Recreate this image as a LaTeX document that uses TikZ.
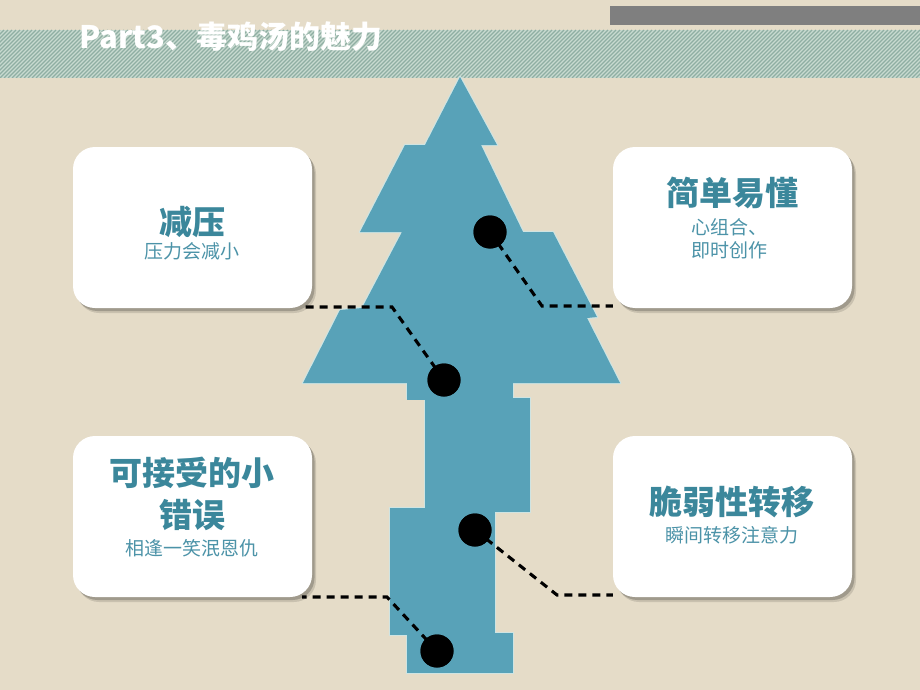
\documentclass[tikz,border=0pt]{standalone}
\usepackage{fontspec}
\setmainfont{Noto Sans CJK SC}
\usetikzlibrary{shadows}
\definecolor{bg}{HTML}{E5DCC8}
\definecolor{bandbase}{HTML}{C8DAD0}
\definecolor{stripe}{HTML}{8FAEA3}
\definecolor{barc}{HTML}{7F7F7F}
\definecolor{treec}{HTML}{58A2B8}
\definecolor{halo}{HTML}{CFE4E2}
\definecolor{titlec}{HTML}{3B879B}
\definecolor{subc}{HTML}{4C93A8}
\tikzset{
  box/.style={fill=white, rounded corners=22pt, minimum width=239pt, minimum height=161pt, inner sep=0pt,
    general shadow={fill=black, opacity=.12, shadow xshift=4pt, shadow yshift=-5pt},
    general shadow={fill=black, opacity=.2, shadow xshift=2.5pt, shadow yshift=-3pt}},
  dot/.style={circle, fill=black, minimum size=33pt, inner sep=0pt},
  conn/.style={draw=black, line width=3.1pt, dash pattern=on 8pt off 6pt},
  ttl/.style={text=titlec, font=\bfseries\fontsize{33}{36}\selectfont, inner sep=0pt},
  subt/.style={text=subc, font=\fontsize{19}{22}\selectfont, inner sep=0pt},
  treepart/.style={fill=treec},
}
\begin{document}
\begin{tikzpicture}[x=1pt,y=-1pt]
\useasboundingbox (0,0) rectangle (920,690);
\fill[bg] (0,0) rectangle (920,690);
% hatched band
\begin{scope}
\clip (0,30) rectangle (920,78);
\fill[bandbase] (0,30) rectangle (920,78);
\foreach \i in {-60,-56,...,924} \draw[stripe, line width=1.1pt] (\i,78) -- (\i+48,30);
\end{scope}
% gray bar
\fill[barc] (610,6) rectangle (920,25);
\node[anchor=west, text=white, font=\bfseries\fontsize{31}{33}\selectfont, inner sep=0pt] (title) at (79,37) {Part3、毒鸡汤的魅力};
% tree: halo then fill
\def\treepath{(460,77) -- (497,145) -- (481,145) -- (523,232) -- (553,232) -- (597,317) -- (587,318) -- (620,383) -- (303,383) -- (340,310) -- (362,308) -- (402,232) -- (360,232) -- (405,145) -- (425,145) -- cycle}
\draw[halo, line width=2.4pt, line join=round] \treepath;
\draw[halo, line width=2.4pt] (407,383) rectangle (513,398);
\draw[halo, line width=2.4pt] (425,398) rectangle (530,512);
\draw[halo, line width=2.4pt] (390,508) rectangle (495,635);
\draw[halo, line width=2.4pt] (407,633) rectangle (513,673);
\fill[treepart] \treepath;
\fill[treepart] (407,380) rectangle (513,400);
\fill[treepart] (425,398) rectangle (530,512);
\fill[treepart] (390,508) rectangle (495,635);
\fill[treepart] (407,633) rectangle (513,673);
% boxes
\node[box] (lt) at (192.5,227.5) {};
\node[box] (rt) at (732.5,227.5) {};
\node[box] (lb) at (192.5,516.5) {};
\node[box] (rb) at (732.5,516.5) {};
% dots
\node[dot] (d1) at (490,232) {};
\node[dot] (d2) at (444,380) {};
\node[dot] (d3) at (475,530) {};
\node[dot] (d4) at (437,651) {};
% connector bends
\coordinate (k1) at (542,306);
\coordinate (k2) at (392,307);
\coordinate (k3) at (557,595);
\coordinate (k4) at (387,597);
\draw[conn] (d1.center) -- (k1) -- (rt.west |- k1);
\draw[conn] (d2.center) -- (k2) -- ([xshift=-10pt]lt.east |- k2);
\draw[conn] (d3.center) -- (k3) -- (rb.west |- k3);
\draw[conn] (d4.center) -- (k4) -- ([xshift=-10pt]lb.east |- k4);
\node[dot] at (d1) {};
\node[dot] at (d2) {};
\node[dot] at (d3) {};
\node[dot] at (d4) {};
% texts
\node[ttl] (t1) at (192,222) {减压};
\node[subt] (s1) at (192,251) {压力会减小};
\node[ttl] (t2) at (732,193) {简单易懂};
\node[subt, anchor=west, align=left, font=\fontsize{19}{23}\selectfont] (s2) at (691,239) {心组合、\\即时创作};
\node[ttl] (t3) at (192,473) {可接受的小};
\node[ttl] (t3b) at (192,515) {错误};
\node[subt] (s3) at (192,548) {相逢一笑泯恩仇};
\node[ttl] (t4) at (732,502) {脆弱性转移};
\node[subt] (s4) at (732,535) {瞬间转移注意力};
\end{tikzpicture}
\end{document}
